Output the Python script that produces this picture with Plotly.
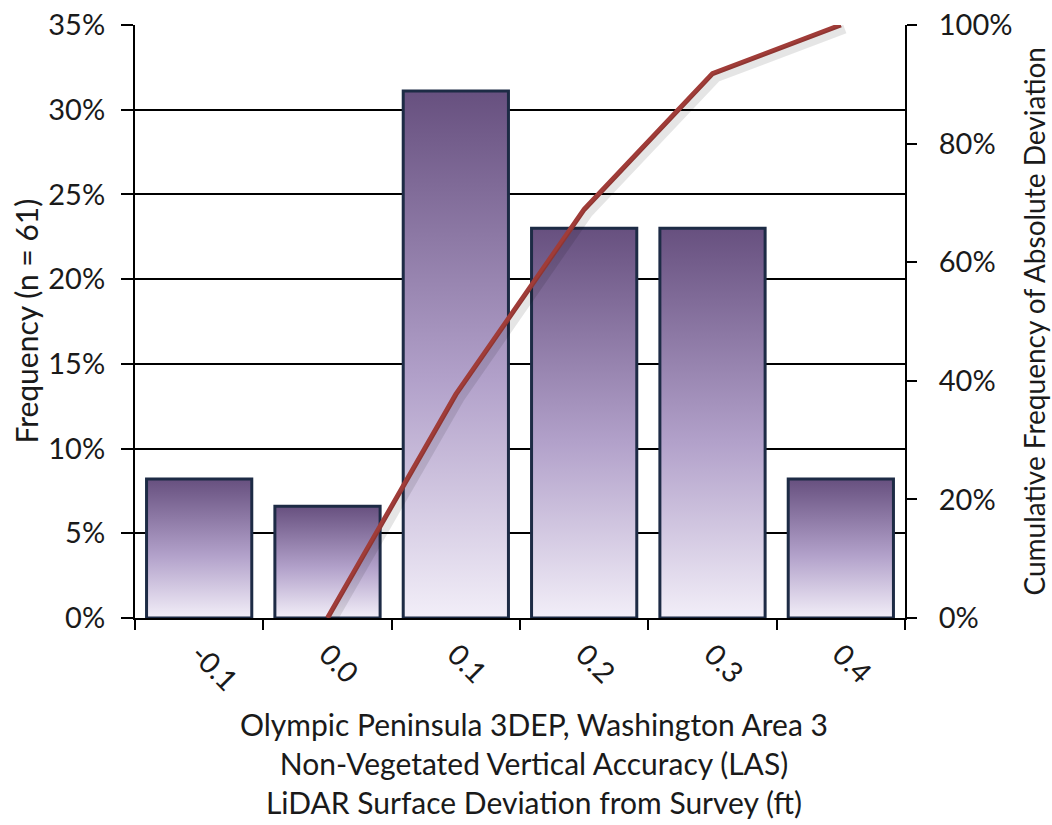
import plotly.graph_objects as go

# ---- data ----
categories = ["-0.1", "0.0", "0.1", "0.2", "0.3", "0.4"]
frequency = [0.082, 0.066, 0.311, 0.230, 0.230, 0.082]          # left axis (n = 61)
cum_categories = ["0.0", "0.1", "0.2", "0.3", "0.4"]
cumulative = [0.0, 0.377, 0.689, 0.918, 1.0]                       # right axis
left_ticks = [0, 0.05, 0.10, 0.15, 0.20, 0.25, 0.30, 0.35]
right_ticks = [0, 0.2, 0.4, 0.6, 0.8, 1.0]

x_title = ["Olympic Peninsula 3DEP, Washington Area 3",
           "Non-Vegetated Vertical Accuracy (LAS)",
           "LiDAR Surface Deviation from Survey (ft)"]
y_title = "Frequency (n = 61)"
y2_title = "Cumulative Frequency of Absolute Deviation"

FONT = "Lato"
TXT = "#1a1a1a"
FS_TICK = 29
FS_TITLE = 30
FS_TITLE2 = 28
half = 0.41

idx = list(range(len(categories)))
xr = [-0.5, len(categories) - 0.5]
fig = go.Figure()

for i, v in zip(idx, frequency):
    fig.add_trace(go.Scatter(
        x=[i - half, i - half, i + half, i + half, i - half],
        y=[0, v, v, 0, 0],
        mode="lines", fill="toself",
        fillgradient=dict(type="vertical",
                          colorscale=[[0, "#f2eef8"], [0.45, "#b2a1ca"], [1, "#67507f"]]),
        line=dict(color="#1d2b45", width=3),
        showlegend=False, hoverinfo="skip"))

cum_x = [categories.index(c) for c in cum_categories]
# soft drop shadow of the cumulative line (same data, slightly offset axes)
fig.add_trace(go.Scatter(
    x=cum_x, y=cumulative, xaxis="x2", yaxis="y3", mode="lines",
    line=dict(color="rgba(0,0,0,0.10)", width=9), showlegend=False,
    hoverinfo="skip"))
fig.add_trace(go.Scatter(
    x=cum_x, y=cumulative, yaxis="y2", mode="lines",
    line=dict(color="#a03c38", width=5), showlegend=False))

px_x = (xr[1] - xr[0]) / 770.0
px_y = 1.0 / 593.0

fig.update_layout(
    width=1052, height=825,
    margin=dict(l=135, r=147, t=25, b=207, autoexpand=False),
    paper_bgcolor="white", plot_bgcolor="white",
    font=dict(family=FONT, size=FS_TICK, color=TXT),
    showlegend=False,
    xaxis=dict(range=xr, tickmode="array",
               tickvals=idx, ticktext=categories, ticks="", tickangle=45,
               showgrid=False, zeroline=False, showline=True,
               linecolor="black", linewidth=2, automargin=False,
               minor=dict(tickmode="array",
                          tickvals=[i - 0.5 for i in range(len(categories) + 1)],
                          ticks="outside", ticklen=10, tickwidth=2,
                          tickcolor="black", showgrid=False),
               tickfont=dict(size=FS_TICK), ticklabelstandoff=6,
               ticklabeloverflow="allow"),
    xaxis2=dict(range=[xr[0] - 4 * px_x, xr[1] - 4 * px_x], overlaying="x",
                visible=False, automargin=False),
    yaxis=dict(range=[0, 0.35], tickmode="array", tickvals=left_ticks,
               tickformat=".0%", ticks="outside", ticklen=12, tickwidth=2,
               tickcolor="black", showgrid=True, gridcolor="black", gridwidth=1.6,
               zeroline=False, showline=True, linecolor="black", linewidth=2,
               ticklabelstandoff=10, ticklabeloverflow="allow", automargin=False),
    yaxis2=dict(range=[0, 1], overlaying="y", side="right", tickmode="array",
                tickvals=right_ticks, tickformat=".0%", ticks="outside",
                ticklen=10, tickwidth=2, tickcolor="black", showgrid=False,
                zeroline=False, showline=True, linecolor="black", linewidth=2,
                ticklabelstandoff=16, ticklabeloverflow="allow", automargin=False),
    yaxis3=dict(range=[4 * px_y, 1 + 4 * px_y], overlaying="y", visible=False,
                automargin=False),
)

fig.add_annotation(text="<br>".join(x_title), xref="paper", yref="paper",
                   x=0.518, y=0, xanchor="center", yanchor="top", yshift=-86,
                   showarrow=False, align="center", font=dict(size=FS_TITLE))
fig.add_annotation(text=y_title, xref="paper", yref="paper", x=0, y=0.5,
                   xanchor="center", yanchor="middle", xshift=-110, textangle=-90,
                   showarrow=False, font=dict(size=FS_TITLE))
fig.add_annotation(text=y2_title, xref="paper", yref="paper", x=1, y=0.5,
                   xanchor="center", yanchor="middle", xshift=128, textangle=-90,
                   showarrow=False, font=dict(size=FS_TITLE2))

fig.write_html("out.html", config={"displayModeBar": False},
               post_script="document.body.style.margin='0';")
